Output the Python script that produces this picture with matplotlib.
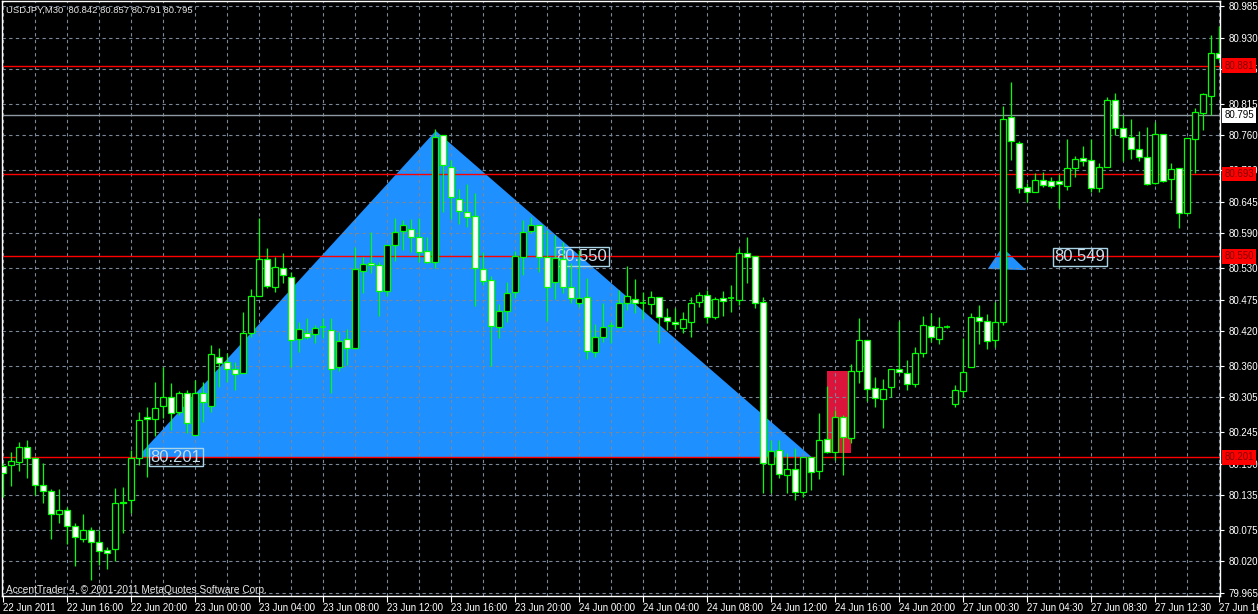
import matplotlib
matplotlib.use('Agg')
import matplotlib.pyplot as plt
from matplotlib.patches import Polygon, Rectangle

plt.rcParams['font.family'] = ['Liberation Sans', 'DejaVu Sans']

# USDJPY M30 bars, 22 Jun 12:00 -> 27 Jun 16:00
opens = [
    80.186, 80.187, 80.193, 80.219, 80.200, 80.153, 80.142, 80.102, 80.109, 80.081,
    80.059, 80.075, 80.054, 80.040, 80.042, 80.123, 80.127, 80.200, 80.271, 80.267,
    80.290, 80.306, 80.280, 80.313, 80.240, 80.313, 80.290, 80.375, 80.366, 80.354,
    80.347, 80.417, 80.481, 80.545, 80.497, 80.530, 80.514, 80.406, 80.417, 80.415,
    80.426, 80.422, 80.358, 80.406, 80.391, 80.524, 80.538, 80.535, 80.490, 80.570,
    80.594, 80.597, 80.584, 80.559, 80.540, 80.761, 80.705, 80.650, 80.627, 80.620,
    80.528, 80.509, 80.427, 80.455, 80.488, 80.549, 80.594, 80.604, 80.549, 80.505,
    80.545, 80.497, 80.469, 80.479, 80.384, 80.410, 80.429, 80.427, 80.469, 80.476,
    80.469, 80.467, 80.479, 80.445, 80.436, 80.426, 80.436, 80.471, 80.483, 80.445,
    80.478, 80.478, 80.474, 80.556, 80.551, 80.471, 80.189, 80.214, 80.170, 80.180,
    80.141, 80.201, 80.177, 80.233, 80.210, 80.271, 80.234, 80.351, 80.405, 80.321,
    80.302, 80.323, 80.354, 80.347, 80.328, 80.382, 80.429, 80.406, 80.427, 80.293,
    80.316, 80.358, 80.445, 80.438, 80.405, 80.436, 80.792, 80.747, 80.670, 80.662,
    80.683, 80.681, 80.681, 80.672, 80.703, 80.721, 80.717, 80.669, 80.705, 80.822,
    80.773, 80.757, 80.736, 80.723, 80.677, 80.763, 80.684, 80.703, 80.625, 80.754,
    80.799, 80.829, 80.903]
highs = [
    80.191, 80.210, 80.227, 80.231, 80.201, 80.191, 80.146, 80.146, 80.114, 80.087,
    80.102, 80.080, 80.075, 80.045, 80.147, 80.149, 80.214, 80.280, 80.288, 80.332,
    80.358, 80.330, 80.316, 80.318, 80.335, 80.332, 80.396, 80.391, 80.382, 80.366,
    80.453, 80.493, 80.617, 80.564, 80.549, 80.556, 80.523, 80.436, 80.443, 80.431,
    80.443, 80.443, 80.419, 80.424, 80.566, 80.549, 80.592, 80.540, 80.570, 80.617,
    80.613, 80.615, 80.617, 80.584, 80.771, 80.761, 80.717, 80.667, 80.676, 80.660,
    80.558, 80.516, 80.467, 80.505, 80.559, 80.613, 80.618, 80.604, 80.596, 80.587,
    80.575, 80.538, 80.561, 80.512, 80.432, 80.469, 80.436, 80.491, 80.533, 80.511,
    80.488, 80.490, 80.479, 80.460, 80.460, 80.453, 80.479, 80.488, 80.491, 80.479,
    80.490, 80.500, 80.564, 80.584, 80.551, 80.479, 80.231, 80.231, 80.208, 80.217,
    80.201, 80.201, 80.278, 80.325, 80.283, 80.274, 80.363, 80.443, 80.405, 80.340,
    80.337, 80.354, 80.438, 80.370, 80.392, 80.446, 80.452, 80.445, 80.431, 80.326,
    80.408, 80.452, 80.465, 80.450, 80.471, 80.811, 80.853, 80.750, 80.677, 80.695,
    80.697, 80.688, 80.693, 80.754, 80.724, 80.742, 80.754, 80.712, 80.827, 80.834,
    80.796, 80.789, 80.768, 80.775, 80.783, 80.763, 80.712, 80.703, 80.756, 80.808,
    80.834, 80.935, 80.950]
lows = [
    80.132, 80.151, 80.177, 80.165, 80.135, 80.121, 80.059, 80.087, 80.050, 80.012,
    80.054, 79.988, 80.014, 80.007, 80.021, 80.069, 80.104, 80.187, 80.167, 80.238,
    80.269, 80.248, 80.274, 80.243, 80.240, 80.262, 80.280, 80.323, 80.332, 80.318,
    80.347, 80.410, 80.481, 80.495, 80.488, 80.504, 80.358, 80.384, 80.406, 80.399,
    80.408, 80.313, 80.351, 80.361, 80.391, 80.486, 80.521, 80.446, 80.481, 80.542,
    80.561, 80.558, 80.540, 80.538, 80.530, 80.627, 80.615, 80.606, 80.601, 80.464,
    80.500, 80.360, 80.408, 80.436, 80.478, 80.518, 80.591, 80.523, 80.438, 80.476,
    80.486, 80.469, 80.462, 80.372, 80.375, 80.401, 80.399, 80.427, 80.457, 80.452,
    80.441, 80.450, 80.399, 80.422, 80.424, 80.417, 80.410, 80.462, 80.434, 80.441,
    80.446, 80.453, 80.465, 80.504, 80.460, 80.139, 80.139, 80.165, 80.139, 80.127,
    80.132, 80.144, 80.163, 80.208, 80.196, 80.170, 80.226, 80.330, 80.299, 80.288,
    80.252, 80.306, 80.349, 80.318, 80.323, 80.375, 80.401, 80.398, 80.426, 80.288,
    80.306, 80.358, 80.398, 80.389, 80.392, 80.431, 80.717, 80.660, 80.644, 80.662,
    80.670, 80.669, 80.634, 80.665, 80.688, 80.707, 80.662, 80.662, 80.705, 80.761,
    80.716, 80.719, 80.716, 80.674, 80.676, 80.679, 80.648, 80.599, 80.625, 80.695,
    80.770, 80.796, 80.891]
closes = [
    80.174, 80.194, 80.219, 80.200, 80.153, 80.142, 80.102, 80.109, 80.081, 80.062,
    80.075, 80.054, 80.038, 80.035, 80.121, 80.121, 80.200, 80.266, 80.267, 80.286,
    80.306, 80.278, 80.313, 80.260, 80.313, 80.297, 80.380, 80.365, 80.354, 80.346,
    80.417, 80.481, 80.545, 80.498, 80.531, 80.518, 80.405, 80.424, 80.410, 80.426,
    80.427, 80.354, 80.403, 80.391, 80.528, 80.537, 80.535, 80.490, 80.570, 80.592,
    80.604, 80.584, 80.558, 80.540, 80.757, 80.709, 80.653, 80.629, 80.618, 80.530,
    80.507, 80.429, 80.455, 80.486, 80.551, 80.592, 80.604, 80.549, 80.497, 80.547,
    80.497, 80.478, 80.478, 80.386, 80.410, 80.427, 80.429, 80.469, 80.481, 80.469,
    80.469, 80.479, 80.445, 80.438, 80.432, 80.441, 80.469, 80.483, 80.445, 80.476,
    80.472, 80.478, 80.556, 80.549, 80.469, 80.191, 80.212, 80.172, 80.180, 80.141,
    80.201, 80.175, 80.231, 80.210, 80.271, 80.236, 80.351, 80.405, 80.320, 80.304,
    80.320, 80.354, 80.349, 80.328, 80.382, 80.431, 80.410, 80.427, 80.428, 80.318,
    80.349, 80.445, 80.438, 80.403, 80.436, 80.789, 80.750, 80.669, 80.662, 80.683,
    80.674, 80.672, 80.676, 80.703, 80.719, 80.716, 80.669, 80.705, 80.822, 80.773,
    80.757, 80.736, 80.723, 80.676, 80.763, 80.681, 80.702, 80.625, 80.756, 80.801,
    80.832, 80.903, 80.895]

time_labels = ['22 Jun 2011', '22 Jun 16:00', '22 Jun 20:00', '23 Jun 00:00', '23 Jun 04:00',
               '23 Jun 08:00', '23 Jun 12:00', '23 Jun 16:00', '23 Jun 20:00', '24 Jun 00:00',
               '24 Jun 04:00', '24 Jun 08:00', '24 Jun 12:00', '24 Jun 16:00', '24 Jun 20:00',
               '27 Jun 00:30', '27 Jun 04:30', '27 Jun 08:30', '27 Jun 12:30', '27 Jun 16:30']
price_ticks = [80.985, 80.930, 80.875, 80.815, 80.760, 80.700, 80.645, 80.590, 80.530, 80.475,
               80.420, 80.360, 80.305, 80.245, 80.190, 80.135, 80.075, 80.020, 79.965]

red_levels = [80.881, 80.693, 80.550, 80.201]
bid_level = 80.795

# triangle pattern (bar index, price)
big_tri = [(16.8, 80.201), (54.1, 80.768), (101.1, 80.201)]
small_tri = [(123.1, 80.528), (124.9, 80.566), (127.9, 80.526)]
red_box = (103, 106, 80.208, 80.351)
price_notes = [(18.4, 80.201, '80.201'), (69.2, 80.550, '80.550'), (131.4, 80.549, '80.549')]

title = 'USDJPY,M30  80.842 80.857 80.791 80.795'
copyright_txt = 'AccentTrader 4, \u00a9 2001-2011 MetaQuotes Software Corp.'

fig = plt.figure(figsize=(12.58, 6.14), dpi=100, facecolor='black')
ax = fig.add_axes([2 / 1258, 18 / 614, 1218 / 1258, 595 / 614])
ax.set_facecolor('black')
ax.set_axisbelow('line')

n = len(opens)
xs = list(range(n))
ax.set_xlim(-0.125, n - 1 + 0.125)
ax.set_ylim(79.9598, 80.9937)

# pattern shapes behind the candles
ax.add_patch(Polygon(big_tri, closed=True, facecolor='#1e90ff', edgecolor='none', zorder=1))
ax.add_patch(Polygon(small_tri, closed=True, facecolor='#1e90ff', edgecolor='none', zorder=1))
ax.add_patch(Rectangle((red_box[0], red_box[2]), red_box[1] - red_box[0], red_box[3] - red_box[2],
                       facecolor='#dc143c', edgecolor='none', zorder=1))

for lv in red_levels:
    ax.axhline(lv, color='#ff0000', lw=1, zorder=2)
ax.axhline(bid_level, color='#8f99a3', lw=1, zorder=2)

# candles
ax.vlines(xs, lows, highs, color='#00ff00', lw=0.9, zorder=3)
for i in xs:
    o, c = opens[i], closes[i]
    if abs(c - o) < 0.0015:
        ax.hlines((o + c) / 2, i - 0.32, i + 0.32, color='#00ff00', lw=1.2, zorder=4)
        continue
    face = 'white' if c < o else 'black'
    ax.add_patch(Rectangle((i - 0.32, min(o, c)), 0.64, abs(c - o), facecolor=face,
                           edgecolor='#00ff00', lw=0.9, zorder=4))

# axes styling
for s in ax.spines.values():
    s.set_color('white')
    s.set_linewidth(1)
ax.yaxis.tick_right()
ax.set_yticks(price_ticks)
ax.set_yticklabels(['%.3f' % v for v in price_ticks])
ax.set_xticks(list(range(0, n, 8)))
ax.set_xticks(list(range(4, n, 8)), minor=True)
ax.set_xticklabels(time_labels, ha='left')
ax.tick_params(axis='y', colors='white', labelsize=7, length=3, pad=3)
ax.tick_params(axis='x', which='major', colors='white', labelsize=7, length=4, pad=1)
ax.tick_params(axis='x', which='minor', length=0)
gkw = dict(color='#7a8898', linestyle=(0, (3, 3)), lw=0.8)
ax.grid(True, axis='x', which='both', **gkw)
ax.grid(True, axis='y', which='major', **gkw)

# price labels on the scale
ytr = ax.get_yaxis_transform()
for lv in red_levels:
    ax.text(1.0035, lv, '%.3f' % lv, transform=ytr, ha='left', va='center', fontsize=7,
            color='#800000', zorder=6,
            bbox=dict(boxstyle='square,pad=0.25', facecolor='#ff0000', edgecolor='none'))
ax.text(1.0035, bid_level, '%.3f' % bid_level, transform=ytr, ha='left', va='center', fontsize=7,
        color='black', zorder=6,
        bbox=dict(boxstyle='square,pad=0.25', facecolor='white', edgecolor='none'))

for bx, py, txt in price_notes:
    ax.text(bx, py, txt, ha='left', va='center', fontsize=12, color='#c8dcea', zorder=2.5,
            bbox=dict(boxstyle='square,pad=0.1', facecolor='none', edgecolor='#a9d3e6', lw=1))

fig.text(6 / 1258, 1 - 10 / 614, title, color='#e8e8e8', fontsize=6.8, va='center', ha='left')
fig.text(6 / 1258, 1 - 590 / 614, copyright_txt, color='#e8e8e8', fontsize=7.3, va='center', ha='left')

fig.savefig('out.png', dpi=100, facecolor='black')
